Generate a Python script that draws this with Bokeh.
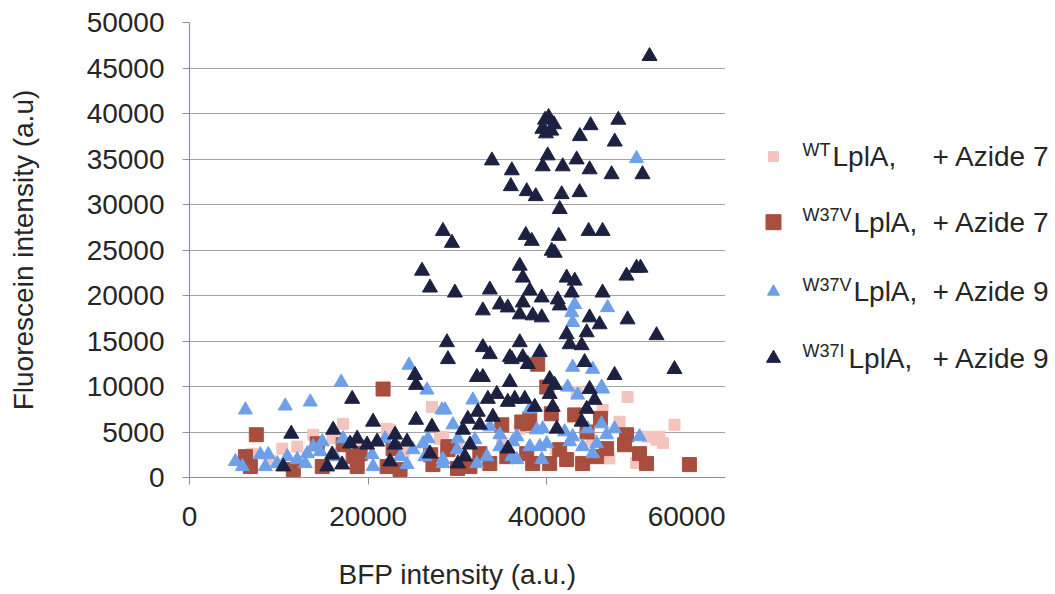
from bokeh.plotting import figure
from bokeh.models import Range1d, FixedTicker, NumeralTickFormatter
from bokeh.layouts import row
from bokeh.core.properties import value
from bokeh.embed import file_html
from bokeh.resources import INLINE

# ---------------- data ----------------
# WT LplA + Azide 7 (pink squares)
wt_x = [27140, 17200, 13850, 22120, 10390, 12060, 28370, 49040, 54290, 48140, 52280, 51270,
        43340, 46240, 37200, 52610, 28040, 22450, 36970, 7000, 9000, 16000, 19000, 24000,
        30000, 35000, 41000, 45000, 47000, 50000, 53000]
wt_y = [7750, 5900, 4700, 5350, 3170, 3390, 4480, 8850, 5790, 6120, 4150, 4480,
        9390, 7430, 5790, 4480, 4260, 5240, 5350, 2600, 1800, 4300, 3600, 2800,
        3100, 3800, 3100, 4100, 2100, 1600, 3800]

# W37V LplA + Azide 7 (brown squares)
v7_x = [21670, 7480, 6260, 6810, 11620, 14860, 18320, 18770, 19100, 22120, 23570, 27250, 28930,
        14300, 17200, 22790, 39990, 34960, 38090, 43120, 48920, 48700, 50380, 51160, 55960,
        28930, 32500, 35520, 37750, 40320, 42220, 44010, 45580, 46690, 33620, 38420, 31390,
        41440, 37870, 38980, 37200, 40500, 44500, 46000, 27000, 30000]
v7_y = [9720, 4700, 2290, 1200, 870, 1200, 2290, 1200, 2620, 1200, 870, 1420, 3060,
        3710, 3600, 3170, 9940, 5790, 6440, 6880, 4700, 3600, 2620, 1530, 1420,
        3390, 2620, 2290, 2620, 1530, 1970, 1530, 2290, 3170, 1530, 1530, 1200,
        3060, 5900, 12450, 6100, 7000, 5000, 6500, 2500, 1000]

# W37V LplA + Azide 9 (light blue triangles)
v9_x = [6260, 10720, 13520, 16980, 24570, 26580, 28260, 29490,
        5140, 5920, 7930, 8490, 8820, 9830, 10950, 12060, 13180, 12960, 13850, 14860, 14630,
        17200, 16310, 20440, 20550, 21890, 23570, 24350, 25020, 26140, 26700, 28370, 29940, 26360,
        42890, 45130, 42330, 46240, 43450, 31720, 28600, 38090, 33620, 34740, 36640, 38870,
        39540, 42000, 42890, 44570, 46130, 46690, 47580, 50380, 38090, 39210, 39990, 42560,
        44010, 45580, 34740, 36190, 39430, 36640, 45130, 28370, 32170, 36080, 31950, 30050,
        33290, 43120, 42780, 42890, 46800, 46130, 50040]
v9_y = [7430, 7860, 8300, 10480, 12340, 9610, 7430, 5790,
        1750, 1200, 2510, 1200, 2510, 1530, 2290, 1970, 2620, 1530, 3390, 3930, 2840,
        4260, 2290, 2510, 1200, 4260, 2290, 1420, 3060, 3710, 4260, 1970, 3060, 2290,
        12120, 11900, 9940, 9720, 9060, 8520, 7430, 7530, 5570, 4700, 4480, 5240,
        5350, 5020, 4480, 5350, 5900, 4700, 5350, 4480, 3390, 3390, 3710, 3930,
        3390, 3710, 3390, 3930, 1970, 1970, 2620, 1530, 1530, 2290, 4150, 4260,
        2290, 19000, 18130, 17040, 18670, 9940, 35050]

# W37I LplA + Azide 9 (navy triangles)
i9_x = [51500, 39800, 40200, 39500, 40500, 39900, 40800, 48000, 44900, 43700, 47600,
        33850, 36080, 40100, 39540, 41780, 43340, 44790, 47250, 50710,
        35970, 37750, 38760, 41660, 43670, 41440,
        28370, 29380, 37640, 38310, 41330, 44680, 46240,
        40550, 40880, 36970, 37310, 26030, 26920, 29710, 33620, 34740, 35630, 32840, 38090,
        39430, 37310, 36970, 38420, 39430, 41220, 41440, 42220, 43120, 42780, 46240, 48920,
        50040, 50490, 44790, 45910, 49040, 42220, 44460, 42560, 43900, 52280, 28820, 28930,
        32840, 33620, 36970, 35860, 39210, 37310,
        36080, 37870, 44230, 47580, 54290, 32170, 32840, 35860, 40320, 40880, 44790, 33400,
        34400, 35630, 36410, 37530, 40320, 40660, 38650, 44460, 45350, 31160, 32280, 33960,
        32500, 30610, 41110, 43900, 31390, 35630, 30050, 30830,
        25240, 25360, 18210, 20550, 25360, 27140, 11390, 16080, 18770, 17980, 19880, 21000,
        23010, 23010, 24350, 10500, 15970, 15410, 17090, 22450, 26920]
i9_y = [46300, 39300, 39600, 38300, 38100, 37800, 38800, 39300, 38700, 37500, 36900,
        34830, 33740, 35380, 34180, 34180, 34940, 33850, 33310, 33310,
        32000, 31450, 30900, 31120, 31340, 29480,
        27080, 25770, 26640, 25990, 26540, 27080, 27080,
        24900, 24680, 23260, 21950, 22710, 20860, 20310, 20640, 19000, 18670, 18350, 20530,
        19770, 19220, 17910, 17800, 17580, 19550, 18890, 21950, 21620, 20310, 20310, 22170,
        23040, 23040, 17580, 16820, 17360, 15720, 15940, 14630, 14520, 15620, 14850, 12990,
        14310, 13540, 14850, 13210, 13760, 13210,
        12990, 12450, 12670, 11250, 11900, 11030, 11030, 10480, 10810, 10160, 9720, 8630,
        9170, 8300, 8630, 8630, 9170, 7750, 7750, 7530, 8520, 6440, 7210, 6660,
        5790, 5240, 5350, 6120, 3600, 3170, 1530, 2290,
        11250, 10160, 8630, 6120, 6330, 5570, 4800, 5240, 4260, 3710, 3600, 3930,
        4700, 3600, 3930, 1200, 2510, 1200, 1420, 1750, 2620]

x_ticks = [0, 20000, 40000, 60000]
y_ticks = [0, 5000, 10000, 15000, 20000, 25000, 30000, 35000, 40000, 45000, 50000]

series_sup = ["WT", "W37V", "W37V", "W37I"]
series_main = ["LplA,", "LplA,", "LplA,", "LplA,"]
series_tail = ["+ Azide 7", "+ Azide 7", "+ Azide 9", "+ Azide 9"]

PINK = "#F4C4BE"
BROWN = "#A84E3E"
LBLUE = "#6E9FEA"
NAVY = "#1D2141"
FONT = "Liberation Sans"
TXT = "#262626"

TOP = 22
FRAME_H = 458
BOTTOM = 112

# ---------------- main plot ----------------
p = figure(width=725, height=TOP + FRAME_H + BOTTOM,
           x_range=Range1d(0, 60000), y_range=Range1d(0, 50000),
           output_backend="svg", toolbar_location=None,
           min_border_left=189, min_border_top=TOP, min_border_right=0, min_border_bottom=BOTTOM)
p.outline_line_color = None
p.background_fill_color = "white"
p.border_fill_color = "white"

p.scatter(wt_x, wt_y, marker="square", size=11, fill_color=PINK, line_color=PINK)
p.scatter(v7_x, v7_y, marker="square", size=14, fill_color=BROWN, line_color=BROWN)
p.scatter(v9_x, v9_y, marker="triangle", size=14, fill_color=LBLUE, line_color=LBLUE)
p.scatter(i9_x, i9_y, marker="triangle", size=15, fill_color=NAVY, line_color=NAVY)

p.xgrid.grid_line_color = None
p.ygrid.grid_line_color = "#A3A3A3"
p.ygrid.grid_line_width = 1.2

for ax in (p.xaxis[0], p.yaxis[0]):
    ax.axis_line_color = "#8A8FA3"
    ax.axis_line_width = 1.2
    ax.major_tick_line_color = "#8A8FA3"
    ax.major_tick_in = 0
    ax.major_tick_out = 7
    ax.minor_tick_line_color = None
    ax.major_label_text_font = FONT
    ax.major_label_text_font_size = "28px"
    ax.major_label_text_color = TXT
    ax.axis_label_text_font = FONT
    ax.axis_label_text_font_size = "28px"
    ax.axis_label_text_font_style = "normal"
    ax.axis_label_text_color = TXT
    ax.formatter = NumeralTickFormatter(format="0")

p.xaxis.ticker = FixedTicker(ticks=x_ticks)
p.yaxis.ticker = FixedTicker(ticks=y_ticks)
p.xaxis.axis_label = "BFP intensity (a.u.)"
p.yaxis.axis_label = "Fluorescein intensity (a.u)"
p.xaxis.major_label_standoff = 22
p.xaxis.axis_label_standoff = 30
p.yaxis.major_label_standoff = 18
p.yaxis.axis_label_standoff = 45

# ---------------- legend panel ----------------
# frame of this panel is aligned with the main frame, so its y range is given in page pixels
lg = figure(width=330, height=TOP + FRAME_H + BOTTOM,
            x_range=Range1d(0, 330), y_range=Range1d(TOP + FRAME_H, TOP),
            output_backend="svg", toolbar_location=None,
            min_border_left=0, min_border_right=0, min_border_top=TOP, min_border_bottom=BOTTOM)
lg.axis.visible = False
lg.grid.grid_line_color = None
lg.outline_line_color = None

rows_y = [157, 223, 293, 360]
mk_x = [48, 48, 48, 48]
mk_marker = ["square", "square", "triangle", "triangle"]
mk_size = [10, 15, 12, 14]
mk_color = [PINK, BROWN, LBLUE, NAVY]
sup_x = [77, 77, 77, 77]
main_x = [107, 128, 128, 123]
tail_x = [207, 207, 207, 207]

lg.scatter(x=mk_x, y=rows_y, marker=mk_marker, size=mk_size, fill_color=mk_color, line_color=mk_color)
lg.text(x=sup_x, y=[v - 17 for v in rows_y], text=series_sup, text_font=value(FONT),
        text_font_size=value("18px"), text_baseline="top", text_align="left", text_color=TXT)
lg.text(x=main_x, y=rows_y, text=series_main, text_font=value(FONT),
        text_font_size=value("28px"), text_baseline="middle", text_align="left", text_color=TXT)
lg.text(x=tail_x, y=rows_y, text=series_tail, text_font=value(FONT),
        text_font_size=value("28px"), text_baseline="middle", text_align="left", text_color=TXT)

layout = row(p, lg)
open("out.html", "w").write(file_html(layout, INLINE))
